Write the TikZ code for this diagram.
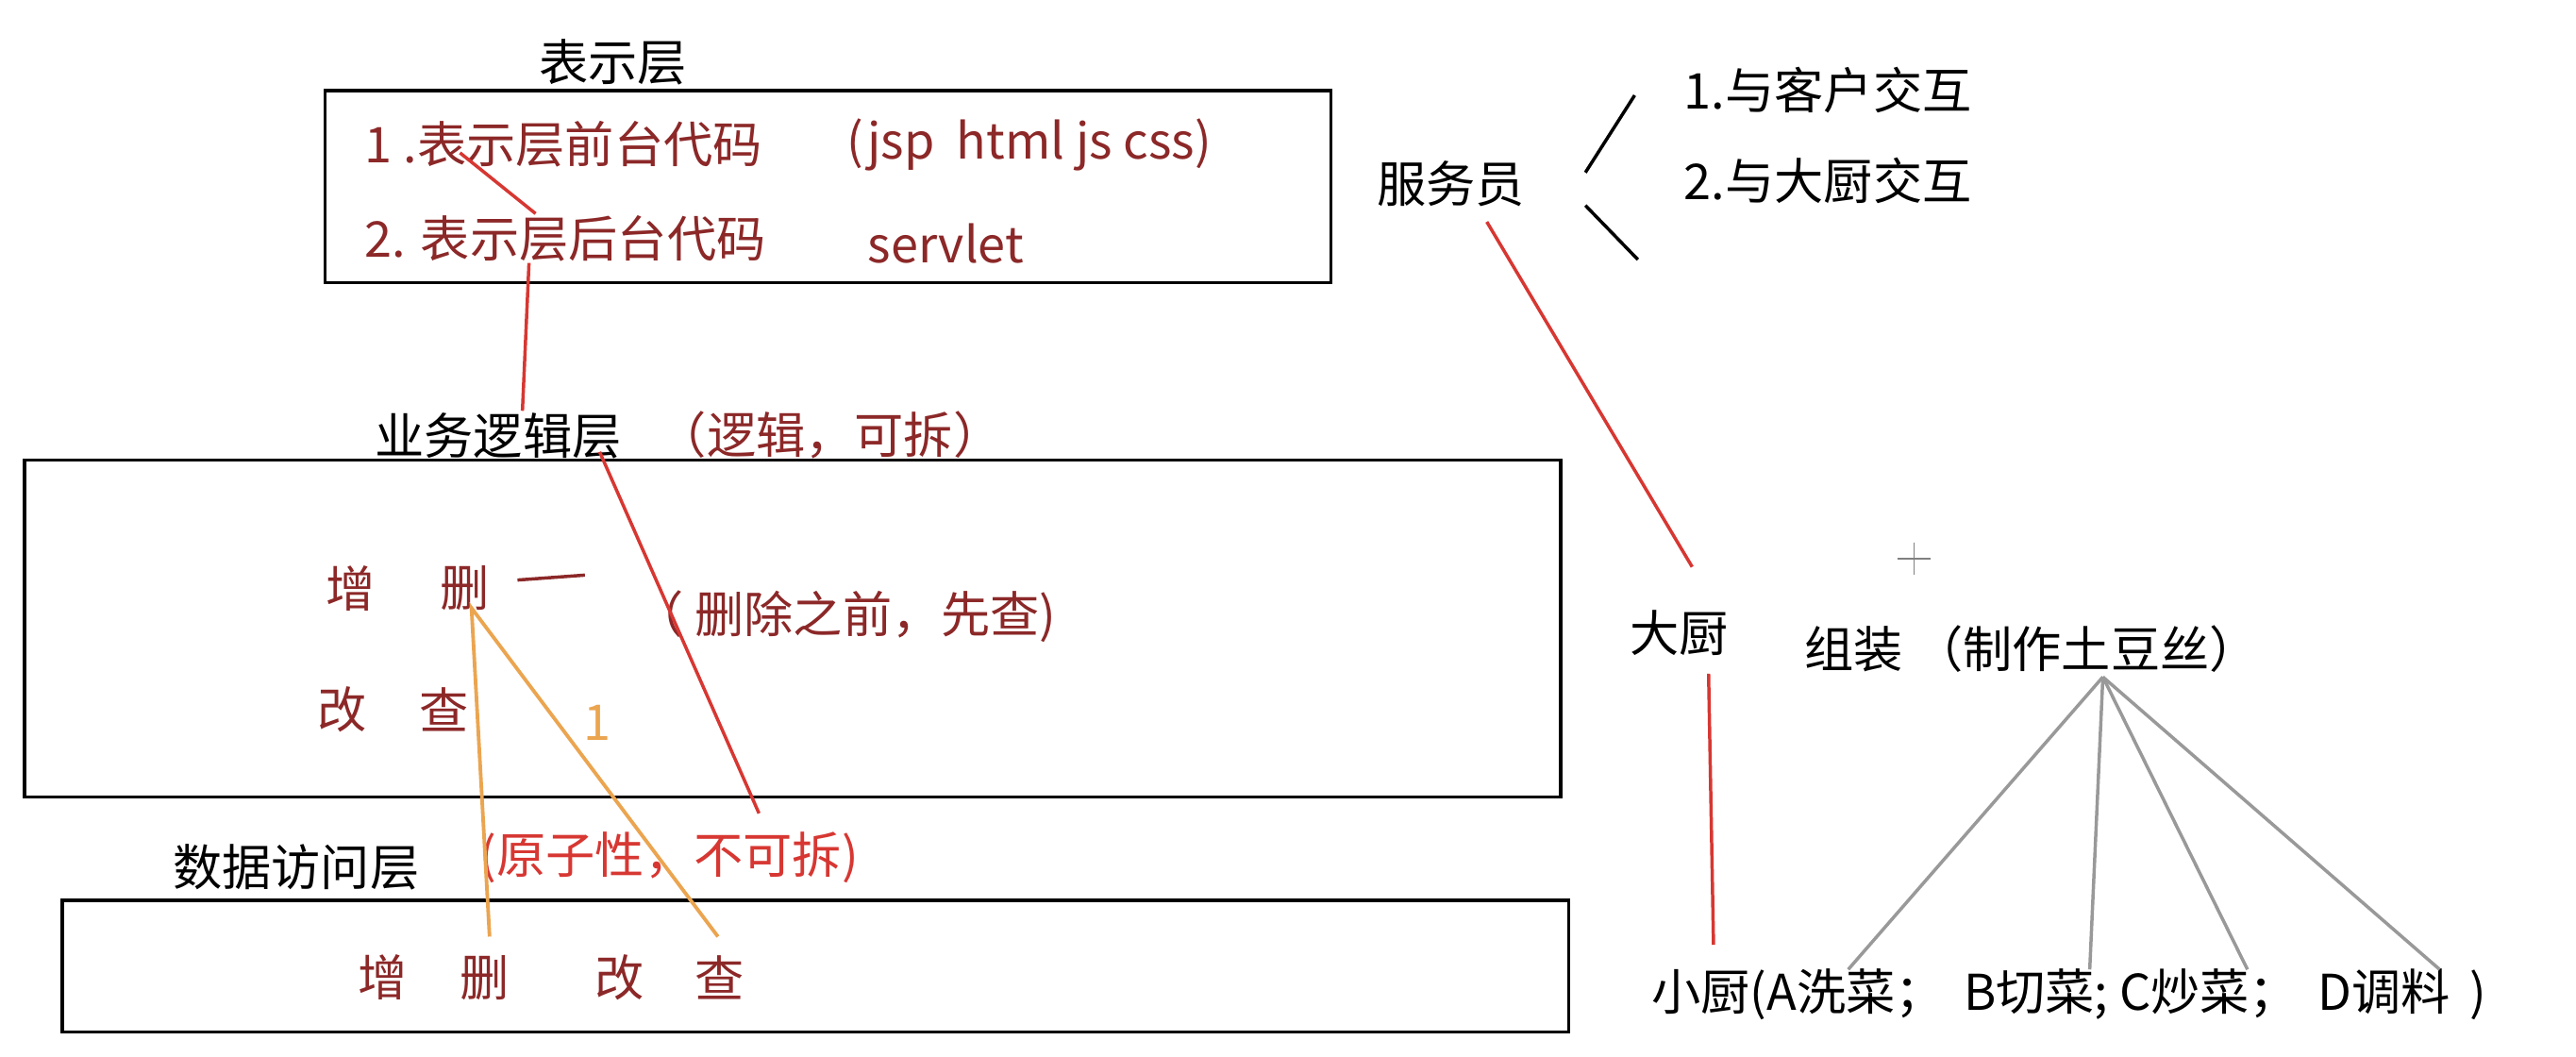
\documentclass[tikz,border=0pt]{standalone}
\usepackage{fontspec}
\setmainfont{Noto Sans CJK SC}
\begin{document}
\begin{tikzpicture}[x=1pt,y=-1pt,
  t/.style={inner sep=0pt,font=\fontsize{30}{33}\selectfont,anchor=west},
  dr/.style={t,text=drk},
  rl/.style={draw=lred,line width=2pt},
  ol/.style={draw=org,line width=2.2pt},
  gl/.style={draw=gray!80,line width=2pt},
  bx/.style={draw=black,line width=2pt}]
\definecolor{drk}{RGB}{140,40,40}
\definecolor{lred}{RGB}{215,55,50}
\definecolor{org}{RGB}{235,165,80}
\useasboundingbox (0,0) rectangle (1568,643);
\fill[white] (0,0) rectangle (1568,643);
\draw[bx] (198,55) rectangle (810,172);
\draw[bx] (15,280) rectangle (950,485);
\draw[bx] (38,548) rectangle (955,628);
\node[t] (l1) at (328,38) {表示层};
\node[dr] (a1) at (222,88) {1 .表示层前台代码};
\node[dr] (a1b) at (515,88) {(jsp \ html js css)};
\node[dr] (a2) at (222,145) {2. 表示层后台代码};
\node[dr] (a3) at (528,148) {servlet};
\node[t] (l2) at (228,265) {业务逻辑层};
\node[dr] (l2b) at (400,265) {（逻辑，可拆）};
\node[dr] (z1) at (198,358) {增};
\node[dr] (s1) at (268,358) {删};
\node[dr] (note) at (386,375) {（ 删除之前，先查)};
\node[dr] (g1) at (193,432) {改};
\node[dr] (c1) at (255,432) {查};
\node[t,text=org] (one) at (355,440) {1};
\node[t] (l3) at (105,528) {数据访问层};
\node[t,text=lred] (l3b) at (292,522) {(原子性，不可拆)};
\node[dr] (z2) at (218,595) {增};
\node[dr] (s2) at (280,595) {删};
\node[dr] (g2) at (362,595) {改};
\node[dr] (c2) at (423,595) {查};
\node[t] (fwy) at (838,112) {服务员};
\node[t] (k1) at (1025,55) {1.与客户交互};
\node[t] (k2) at (1025,110) {2.与大厨交互};
\node[t] (dc) at (992,385) {大厨};
\node[t] (zz) at (1098,395) {组装 （制作土豆丝）};
\node[t] (xc) at (1005,605) {小厨(A洗菜； \,B切菜; C炒菜； \,D调料 \,)};
\coordinate (p1) at (280,93); \coordinate (p2) at (326,130);
\draw[rl] (p1) -- (p2);
\coordinate (v1) at (322,160); \coordinate (v2) at (318,250);
\draw[rl] (v1) -- (v2);
\coordinate (d1) at (315,353); \coordinate (d2) at (356,350);
\draw[draw=drk,line width=2pt] (d1) -- (d2);
\coordinate (r1) at (365,275); \coordinate (r2) at (462,495);
\draw[rl] (r1) -- (r2);
\coordinate (o0) at (287,370); \coordinate (o1) at (298,570); \coordinate (o2) at (437,570);
\draw[ol] (o1) -- (o0) -- (o2);
\coordinate (w1) at (995,58); \coordinate (w2) at (965,105);
\coordinate (w3) at (965,125); \coordinate (w4) at (997,158);
\draw[line width=2pt] (w1) -- (w2) (w3) -- (w4);
\coordinate (f1) at (905,135); \coordinate (f2) at (1030,345);
\draw[rl] (f1) -- (f2);
\coordinate (e1) at (1040,410); \coordinate (e2) at (1043,575);
\draw[rl] (e1) -- (e2);
\coordinate (h) at (1280,412);
\foreach \x in {1125,1272,1368,1485} \draw[gl] (h) -- (\x,590);
\draw[gray,line width=1pt] (1155,340) -- (1175,340) (1165,330) -- (1165,350);
\end{tikzpicture}
\end{document}
